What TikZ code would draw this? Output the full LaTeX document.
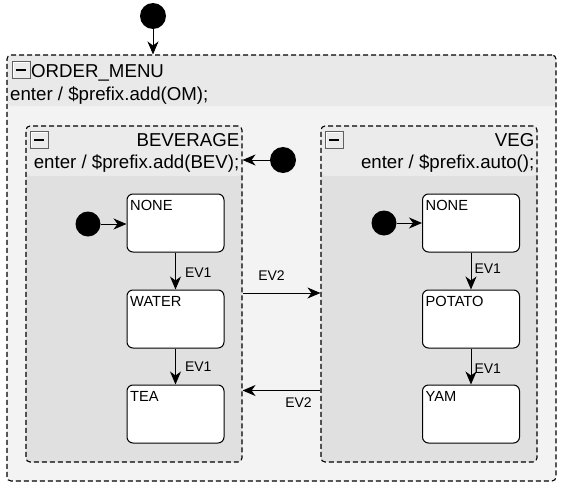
\documentclass[tikz,border=0pt]{standalone}
\usepackage{fontspec}
\setmainfont{Liberation Sans}
\usetikzlibrary{arrows.meta,calc}
\definecolor{outerhead}{HTML}{E9E9E9}
\definecolor{outerbody}{HTML}{F3F3F3}
\definecolor{innerhead}{HTML}{EBEBEB}
\definecolor{innerbody}{HTML}{E0E0E0}
\definecolor{boxedge}{HTML}{606060}
\begin{document}
\begin{tikzpicture}[x=1pt,y=-1pt,
  >={Stealth[length=13pt,width=11pt,inset=4pt]},
  region/.style={draw, dash pattern=on 5pt off 3pt, line width=1.1pt, rounded corners=4pt, inner sep=0pt},
  outerregion/.style={region, fill=outerbody, minimum width=549pt, minimum height=426pt,
    path picture={\fill[outerhead] (path picture bounding box.north west) rectangle ([yshift=-51pt]path picture bounding box.north east);}},
  innerregion/.style={region, fill=innerbody, minimum width=216pt, minimum height=336pt,
    path picture={\fill[innerhead] (path picture bounding box.north west) rectangle ([yshift=-50pt]path picture bounding box.north east);}},
  statebox/.style={draw, line width=1pt, rounded corners=6pt, fill=white, minimum width=97pt, minimum height=58pt, inner sep=0pt},
  initdot/.style={circle, fill=black, minimum size=26pt, inner sep=0pt},
  conn/.style={->, line width=1pt},
  evlabel/.style={font=\fontsize{14}{16}\selectfont, inner sep=0pt},
  statelabel/.style={font=\fontsize{14.67}{17}\selectfont, anchor=north west, inner sep=0pt},
  titletext/.style={font=\fontsize{18.67}{22}\selectfont, inner sep=0pt},
  minusbox/.style={draw=boxedge, fill=innerhead, line width=1pt, minimum width=18pt, minimum height=17pt, inner sep=0pt,
    path picture={
      \draw[white, line width=1.2pt] ([shift={(1.3pt,1.3pt)}]path picture bounding box.south west) |- ([shift={(-1.3pt,-1.3pt)}]path picture bounding box.north east);
      \draw[black, line width=2pt] ([xshift=3.5pt]path picture bounding box.west) -- ([xshift=-4.5pt]path picture bounding box.east);}}
]
\useasboundingbox (0,0) rectangle (568,490);

% outer region
\node[outerregion] (om) at (281.5,268) {};
\node[minusbox] (ommin) at (21,70) {};
\node[titletext, anchor=base west] (omtitle) at (31,77) {ORDER\_MENU};
\node[titletext, anchor=base west] (omenter) at (10,100) {enter / \$prefix.add(OM);};
\node[initdot] (omi) at (153,16) {};
\draw[conn] (omi) -- (omi |- om.north);

% BEVERAGE region
\node[innerregion] (bev) at (134,294) {};
\node[minusbox] (bevmin) at (39.5,139.5) {};
\node[titletext, anchor=base east] (bevtitle) at (239.5,146) {BEVERAGE};
\node[titletext, anchor=base east] (beventer) at (239.5,168) {enter / \$prefix.add(BEV);};
\node[initdot] (bevi) at (283,160) {};
\coordinate (beventry) at (bev.east |- bevi);
\draw[conn] (bevi) -- (beventry);

% VEG region
\node[innerregion] (veg) at (429,294) {};
\node[minusbox] (vegmin) at (334.5,139.5) {};
\node[titletext, anchor=base east] (vegtitle) at (534.5,146) {VEG};
\node[titletext, anchor=base east] (vegenter) at (534.5,168) {enter / \$prefix.auto();};

% BEVERAGE states
\node[statebox] (bnone) at (175.5,223) {};
\node[statebox] (bwater) at (175.5,319) {};
\node[statebox] (btea) at (175.5,414) {};
\node[statelabel] (bnonel) at ([shift={(3.5,7)}]bnone.north west) {NONE};
\node[statelabel] (bwaterl) at ([shift={(3.5,7)}]bwater.north west) {WATER};
\node[statelabel] (btheal) at ([shift={(3.5,7)}]btea.north west) {TEA};
\node[initdot, minimum size=25pt] (bi) at (88,224) {};
\draw[conn] (bi) -- (bi -| bnone.west);
\draw[conn] (bnone) -- node[evlabel, right=9pt, pos=0.55] (ev1a) {EV1} (bwater);
\draw[conn] (bwater) -- node[evlabel, right=9pt, pos=0.5] (ev1b) {EV1} (btea);

% VEG states
\node[statebox] (vnone) at (471,223) {};
\node[statebox] (vpotato) at (471,319) {};
\node[statebox] (vyam) at (471,414) {};
\node[statelabel] (vnonel) at ([shift={(3.5,7)}]vnone.north west) {NONE};
\node[statelabel] (vpotatol) at ([shift={(3.5,7)}]vpotato.north west) {POTATO};
\node[statelabel] (vyaml) at ([shift={(3.5,7)}]vyam.north west) {YAM};
\node[initdot, minimum size=25pt] (vi) at (384,223) {};
\draw[conn] (vi) -- (vi -| vnone.west);
\draw[conn] (vnone) -- node[evlabel, right=3pt, pos=0.45] (ev1c) {EV1} (vpotato);
\draw[conn] (vpotato) -- node[evlabel, right=3pt, pos=0.55] (ev1d) {EV1} (vyam);

% EV2 transitions
\coordinate (ev2s) at (bev.east |- 0,293);
\coordinate (ev2t) at (veg.west |- 0,293);
\draw[conn] (ev2s) -- (ev2t);
\node[evlabel] (ev2a) at (271.5,276) {EV2};
\coordinate (ev2bs) at (veg.west |- 0,390.5);
\coordinate (ev2bt) at (bev.east |- 0,390.5);
\draw[conn] (ev2bs) -- (ev2bt);
\node[evlabel] (ev2b) at (298.5,403) {EV2};
\end{tikzpicture}
\end{document}
